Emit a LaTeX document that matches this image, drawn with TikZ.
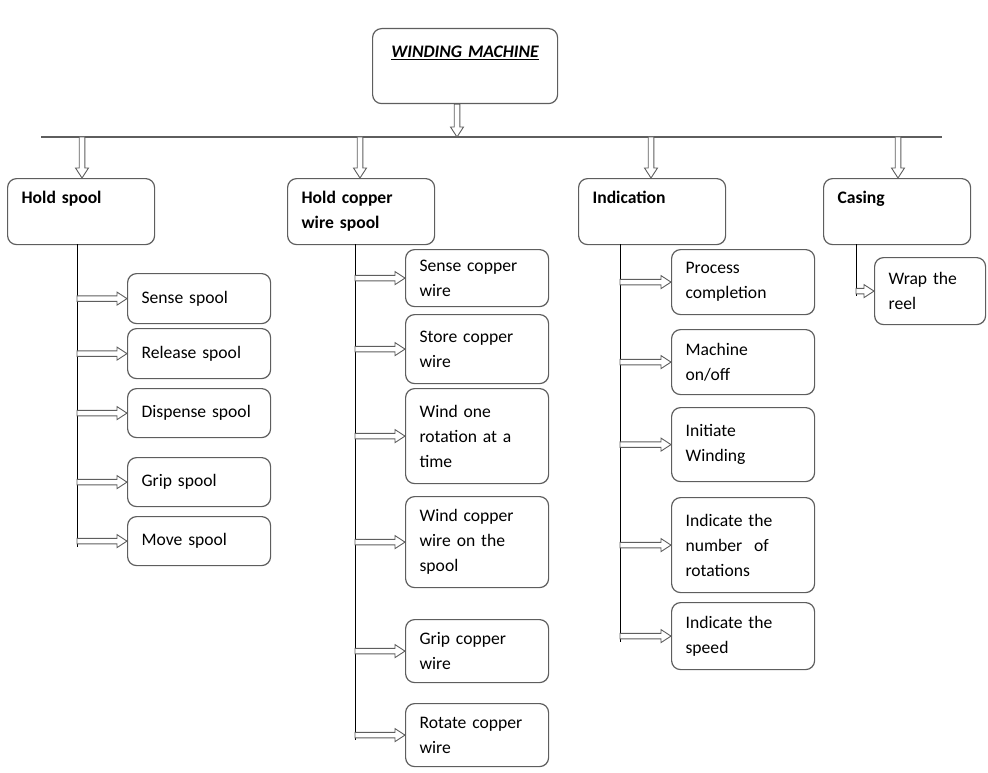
\documentclass[tikz,border=0pt]{standalone}
\usepackage{fontspec}
\setmainfont{Carlito}
\usetikzlibrary{calc}
\definecolor{FrameGray}{HTML}{5E5E5E}

\begin{document}
\begin{tikzpicture}[
  x=1pt, y=-1pt,
  font=\fontsize{17.6}{25}\selectfont,
  box/.style={draw=FrameGray,line width=1.2pt,rounded corners=9pt,anchor=north west,inner xsep=14pt,align=left},
  task/.style={box,text width=115pt,minimum height=#1},
  func/.style={box,font=\fontsize{17.6}{25}\selectfont\bfseries,text width=119pt,text height=12pt,text depth=28pt,inner ysep=13pt},
  bus/.style={draw=FrameGray,line width=1.4pt},
  trunk/.style={draw,line width=0.9pt},
  hollow/.style={draw=FrameGray,fill=white,line width=0.9pt,line join=miter,
    to path={($(\tikztotarget)!10pt!(\tikztostart)$) coordinate (hb)
      ($(\tikztostart)!2.8pt!90:(\tikztotarget)$) -- ($(hb)!2.8pt!90:(\tikztotarget)$)
      -- ($(hb)!6.5pt!90:(\tikztotarget)$) -- (\tikztotarget)
      -- ($(hb)!6.5pt!-90:(\tikztotarget)$) -- ($(hb)!2.8pt!-90:(\tikztotarget)$)
      -- ($(\tikztostart)!2.8pt!-90:(\tikztotarget)$) -- cycle}}
]
  \useasboundingbox (0,0) rectangle (988,773);

  % top box and bus
  \node[box,align=center,text width=157pt,font=\fontsize{17.6}{20}\selectfont\bfseries\itshape,
    text height=12pt,text depth=29pt,inner ysep=17pt] (title) at (372,28) {\underline{WINDING MACHINE}};
  \coordinate (busL) at (41,137);
  \coordinate (busR) at (942,137);
  \coordinate (busmid) at (457,137);
  \draw[bus] (busL) -- (busR);
  \draw[hollow] (title.south -| busmid) to (busmid);

  % functions
  \node[func] (hold) at (7,178) {Hold spool};
  \node[func] (copper) at (287,178) {Hold copper\\wire spool};
  \node[func] (indic) at (578,178) {Indication};
  \node[func] (casing) at (823,178) {Casing};

  \coordinate (bushold) at (82,137);
  \coordinate (buscopper) at (360,137);
  \coordinate (busindic) at (651,137);
  \coordinate (buscasing) at (898,137);
  \foreach \n in {hold,copper,indic,casing}
    \draw[hollow] (bus\n) to (\n.north -| bus\n);

  % hold spool
  \node[task=50pt] (sense) at (127,273) {Sense spool};
  \node[task=50pt] (release) at (127,328) {Release spool};
  \node[task=49pt] (dispense) at (127,388) {Dispense spool};
  \node[task=49pt] (grip) at (127,457) {Grip spool};
  \node[task=49pt] (movesp) at (127,516) {Move spool};

  % hold copper wire spool
  \node[task=57pt] (sensecu) at (405,249) {Sense copper\\wire};
  \node[task=69pt] (store) at (405,314) {Store copper\\wire};
  \node[task=95pt] (windone) at (405,388) {Wind one\\rotation at a\\time};
  \node[task=91pt] (windcu) at (405,496) {Wind copper\\wire on the\\spool};
  \node[task=63pt] (gripcu) at (405,619) {Grip copper\\wire};
  \node[task=63pt] (rotate) at (405,703) {Rotate copper\\wire};

  % indication
  \node[task=65pt] (process) at (671,249) {Process\\completion};
  \node[task=65pt] (onoff) at (671,329) {Machine\\on/off};
  \node[task=74pt] (initiate) at (671,407) {Initiate\\Winding};
  \node[task=95pt] (count) at (671,497) {Indicate the\\number~ of\\rotations};
  \node[task=67pt] (speed) at (671,602) {Indicate the\\speed};

  % casing
  \node[box,text width=83pt,minimum height=67pt] (wrap) at (874,257) {Wrap the\\reel};

  % trunks
  \coordinate (holdtop) at (77,244);
  \coordinate (holdend) at (77,547);
  \coordinate (coppertop) at (355,244);
  \coordinate (copperend) at (355,740);
  \coordinate (indictop) at (620,244);
  \coordinate (indicend) at (620,642);
  \coordinate (casingtop) at (856,244);
  \coordinate (casingend) at (856,296);
  \foreach \n in {hold,copper,indic,casing}
    \draw[trunk] (\n top) -- (\n end);

  \foreach \n in {sense,release,dispense,grip,movesp}
    \draw[hollow] (\n.west -| holdtop) to (\n.west);
  \foreach \n in {sensecu,store,windone,windcu,gripcu,rotate}
    \draw[hollow] (\n.west -| coppertop) to (\n.west);
  \foreach \n in {process,onoff,initiate,count,speed}
    \draw[hollow] (\n.west -| indictop) to (\n.west);
  \draw[hollow] (wrap.west -| casingtop) to (wrap.west);
\end{tikzpicture}
\end{document}
